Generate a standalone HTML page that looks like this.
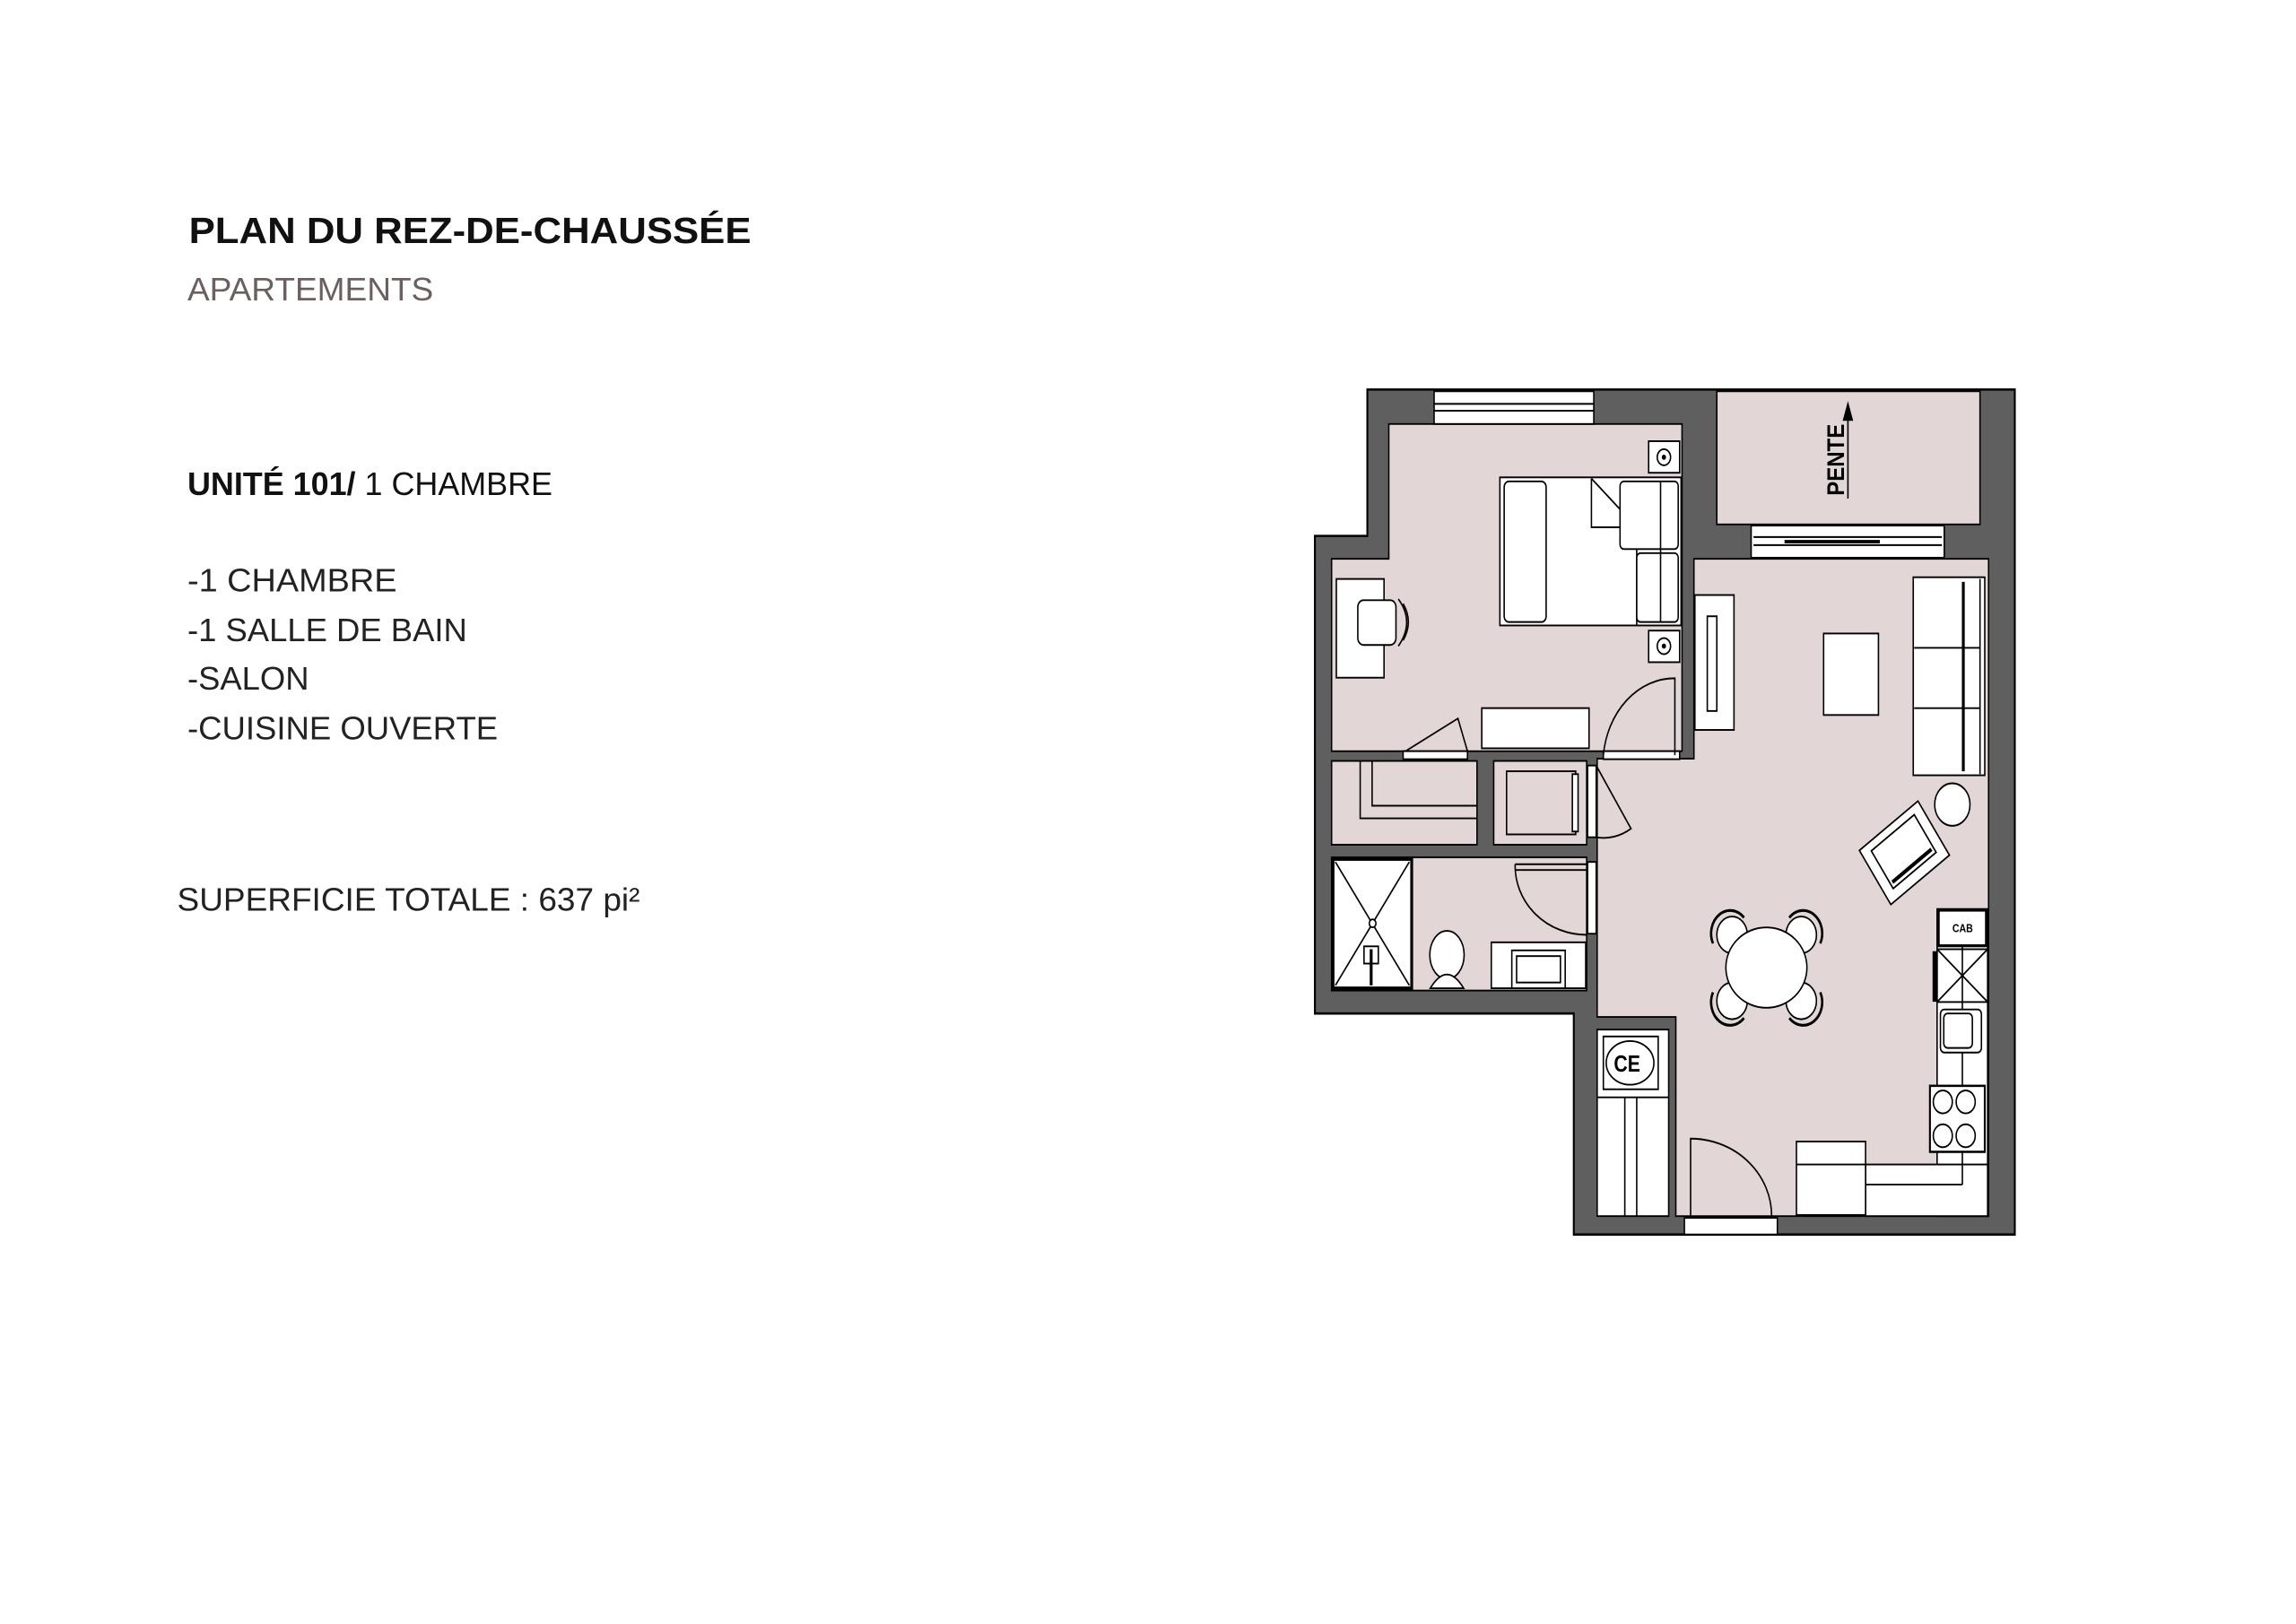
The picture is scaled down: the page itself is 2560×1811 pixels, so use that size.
<!DOCTYPE html>
<html><head><meta charset="utf-8"><style>
html,body{margin:0;padding:0;background:#fff;}
svg{display:block;}
</style></head><body>
<svg width="2560" height="1811" viewBox="0 0 1568 1109" preserveAspectRatio="none" xmlns="http://www.w3.org/2000/svg">
<g font-family="'Liberation Sans', sans-serif">
<text x="129" y="166" font-size="25" font-weight="bold" fill="#111" textLength="384" lengthAdjust="spacingAndGlyphs">PLAN DU REZ-DE-CHAUSSÉE</text>
<text x="128" y="205" font-size="22" fill="#6b5f5f" textLength="168" lengthAdjust="spacingAndGlyphs">APARTEMENTS</text>
<text x="128" y="338" font-size="22" fill="#111"><tspan font-weight="bold">UNITÉ 101/</tspan> 1 CHAMBRE</text>
<text x="128" y="404" font-size="22" fill="#222" textLength="143" lengthAdjust="spacingAndGlyphs">-1 CHAMBRE</text>
<text x="128" y="438" font-size="22" fill="#222" textLength="191" lengthAdjust="spacingAndGlyphs">-1 SALLE DE BAIN</text>
<text x="128" y="471" font-size="22" fill="#222" textLength="83" lengthAdjust="spacingAndGlyphs">-SALON</text>
<text x="128" y="505" font-size="22" fill="#222" textLength="212" lengthAdjust="spacingAndGlyphs">-CUISINE OUVERTE</text>
<text x="121" y="622" font-size="22" fill="#222" textLength="316" lengthAdjust="spacingAndGlyphs">SUPERFICIE TOTALE : 637 pi²</text>
</g>
<g transform="translate(893.1,256.2) scale(0.3256,0.392)" stroke="#000" stroke-width="3" fill="none">
<polygon points="15,280 125,280 125,25 1483,25 1483,1497 558,1497 558,1112 15,1112" fill="#5f5f5f" stroke-width="4"/>
<polygon points="50,320 170,320 170,85 785,85 785,655 50,655" fill="#e2d6d6"/>
<rect x="858" y="28" width="552" height="232" fill="#e2d6d6"/>
<polygon points="810,320 1428,320 1428,1465 772,1465 772,1118 607,1118 607,668 810,668" fill="#e2d6d6"/>
<rect x="50" y="672" width="305" height="146" fill="#e2d6d6"/>
<rect x="390" y="672" width="195" height="146" fill="#e2d6d6"/>
<rect x="50" y="840" width="535" height="232" fill="#e2d6d6"/>
<rect x="607" y="1140" width="150" height="325" fill="#fff"/>
<rect x="265" y="28" width="335" height="57" fill="#fff"/>
<line x1="265" y1="50" x2="600" y2="50"/><line x1="265" y1="62" x2="600" y2="62"/>
<rect x="930" y="262" width="405" height="56" fill="#fff"/>
<line x1="935" y1="282" x2="1330" y2="282"/><line x1="935" y1="296" x2="1330" y2="296"/>
<line x1="1000" y1="290" x2="1200" y2="290" stroke-width="6"/>
<rect x="790" y="1468" width="195" height="29" fill="#fff"/>
<rect x="620" y="655" width="160" height="14" fill="#fff"/>
<rect x="200" y="655" width="135" height="14" fill="#fff"/>
<rect x="587" y="680" width="18" height="125" fill="#fff"/>
<rect x="587" y="848" width="18" height="125" fill="#fff"/>
<text x="0" y="0" transform="translate(1125,210) rotate(-90)" font-family="'Liberation Sans',sans-serif" font-size="50" font-weight="bold" fill="#000" stroke="none" textLength="125" lengthAdjust="spacingAndGlyphs">PENTE</text>
<line x1="1133" y1="215" x2="1133" y2="60"/><polygon points="1124,78 1142,78 1133,50" fill="#000"/>
<rect x="403" y="178" width="380" height="258" fill="#fff"/>
<rect x="412" y="185" width="88" height="245" rx="10" fill="#fff"/>
<polyline points="595,180 595,265 690,265 690,436" /><line x1="595" y1="180" x2="690" y2="265"/>
<rect x="655" y="185" width="122" height="118" rx="8" fill="#fff"/>
<rect x="690" y="310" width="87" height="120" rx="8" fill="#fff"/>
<line x1="740" y1="185" x2="740" y2="430"/>
<rect x="715" y="115" width="65" height="55" fill="#fff"/><circle cx="747" cy="143" r="14"/><circle cx="747" cy="143" r="3" fill="#000"/>
<rect x="715" y="445" width="65" height="55" fill="#fff"/><circle cx="747" cy="472" r="14"/><circle cx="747" cy="472" r="3" fill="#000"/>
<rect x="60" y="355" width="100" height="172" fill="#fff"/>
<rect x="105" y="392" width="80" height="78" rx="12" fill="#fff"/>
<path d="M190,390 Q225,430 190,472"/><path d="M200,398 Q222,430 200,462"/>
<rect x="365" y="580" width="225" height="70" fill="#fff"/>
<path d="M620,662 A150,150 0 0 1 770,528 L770,662" fill="none"/>
<polyline points="205,655 315,598 335,655"/>
<polyline points="110,672 110,772 355,772"/><polyline points="135,672 135,750 355,750"/>
<rect x="417" y="690" width="145" height="110" fill="#e2d6d6"/>
<rect x="555" y="695" width="12" height="100" fill="#fff"/>
<path d="M605,680 L678,790 A110,110 0 0 1 605,805"/>
<rect x="53" y="843" width="165" height="225" fill="#fff" stroke-width="6"/>
<line x1="58" y1="848" x2="213" y2="1063"/><line x1="213" y1="848" x2="58" y2="1063"/>
<circle cx="136" cy="955" r="7" fill="#fff"/><rect x="118" y="995" width="30" height="30" fill="#fff"/><line x1="133" y1="1000" x2="133" y2="1063" stroke-width="6"/>
<ellipse cx="292" cy="1010" rx="36" ry="42" fill="#fff"/><path d="M257,1068 Q292,1020 327,1068 Z" fill="#fff"/>
<rect x="385" y="988" width="198" height="80" fill="#fff"/><rect x="428" y="1002" width="112" height="66" fill="#fff"/><rect x="438" y="1012" width="92" height="46"/>
<path d="M435,852 L585,852 M435,862 L585,862 M435,852 A150,120 0 0 0 585,975"/>
<rect x="812" y="383" width="82" height="235" fill="#fff"/><rect x="838" y="420" width="20" height="165" fill="#fff"/>
<rect x="1082" y="450" width="115" height="142" fill="#fff"/>
<rect x="1270" y="352" width="150" height="345" fill="#fff"/>
<line x1="1272" y1="475" x2="1410" y2="475"/><line x1="1272" y1="580" x2="1410" y2="580"/>
<line x1="1375" y1="360" x2="1375" y2="690" stroke-width="6"/><line x1="1410" y1="355" x2="1410" y2="695"/>
<circle cx="1352" cy="748" r="37" fill="#fff"/>
<g transform="rotate(-35 1250 830)"><rect x="1175" y="775" width="150" height="115" fill="#fff"/><rect x="1195" y="790" width="110" height="80"/><line x1="1200" y1="860" x2="1300" y2="860" stroke-width="7"/></g>
<path d="M850,990 A40,40 0 0 1 915,945" stroke-width="5"/><path d="M1010,945 A40,40 0 0 1 1075,990" stroke-width="5"/>
<path d="M850,1075 A40,40 0 0 0 915,1120" stroke-width="5"/><path d="M1010,1120 A40,40 0 0 0 1075,1075" stroke-width="5"/>
<circle cx="890" cy="975" r="32" fill="#fff"/><circle cx="1035" cy="975" r="32" fill="#fff"/><circle cx="890" cy="1090" r="32" fill="#fff"/><circle cx="1035" cy="1090" r="32" fill="#fff"/>
<ellipse cx="962" cy="1032" rx="85" ry="70" fill="#fff"/>
<rect x="1320" y="930" width="106" height="535" fill="#fff"/>
<rect x="1170" y="1375" width="256" height="90" fill="#fff"/>
<line x1="1373" y1="995" x2="1373" y2="1410"/><line x1="1170" y1="1410" x2="1373" y2="1410"/>
<rect x="1323" y="932" width="100" height="62" fill="#fff" stroke-width="5"/>
<text x="1352" y="970" font-family="'Liberation Sans',sans-serif" font-size="20" font-weight="bold" fill="#000" stroke="none">CAB</text>
<rect x="1320" y="1000" width="106" height="92" fill="#fff"/><line x1="1320" y1="1000" x2="1426" y2="1092"/><line x1="1426" y1="1000" x2="1320" y2="1092"/><line x1="1373" y1="1000" x2="1373" y2="1092"/>
<rect x="1312" y="1005" width="8" height="85" fill="#000"/>
<rect x="1327" y="1105" width="86" height="75" rx="8" fill="#fff"/><rect x="1334" y="1112" width="60" height="60" rx="8"/>
<rect x="1305" y="1238" width="115" height="115" fill="#fff" stroke-width="4"/>
<circle cx="1332" cy="1266" r="20"/><circle cx="1380" cy="1266" r="20"/><circle cx="1332" cy="1325" r="20"/><circle cx="1380" cy="1325" r="20"/>
<rect x="1025" y="1335" width="145" height="128" fill="#fff"/><line x1="1025" y1="1375" x2="1170" y2="1375"/>
<rect x="620" y="1152" width="115" height="92" fill="#fff"/><ellipse cx="676" cy="1198" rx="50" ry="38" fill="#fff"/>
<text x="642" y="1213" font-family="'Liberation Sans',sans-serif" font-size="40" font-weight="bold" fill="#000" stroke="none">CE</text>
<line x1="607" y1="1258" x2="757" y2="1258"/><line x1="665" y1="1258" x2="665" y2="1465"/><line x1="690" y1="1258" x2="690" y2="1465"/>
<path d="M803,1465 L803,1330 A170,135 0 0 1 973,1465"/>
</g>
</svg>
</body></html>
